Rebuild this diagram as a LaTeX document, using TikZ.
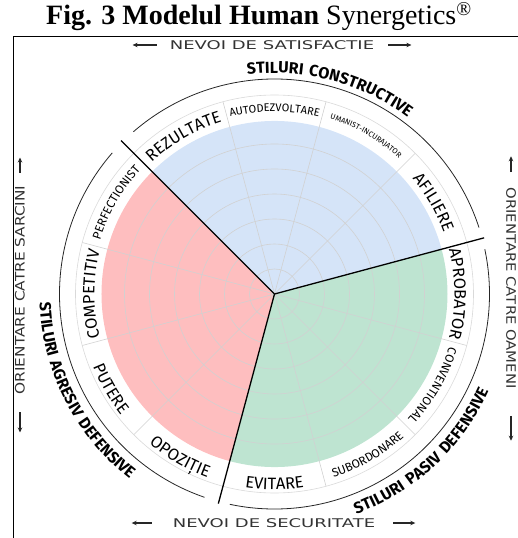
\documentclass[tikz,border=0pt]{standalone}
\usepackage{fontspec}
\setmainfont{Liberation Serif}
\newfontfamily\lbl{Fira Sans}
\newfontfamily\axisfont{DejaVu Sans}
\usetikzlibrary{decorations.text,arrows.meta}

\definecolor{constr}{RGB}{213,228,248}
\definecolor{agres}{RGB}{254,190,191}
\definecolor{pasiv}{RGB}{190,228,209}

% curved text: from angle, to angle, radius, font, text
\newcommand\arclabel[5]{%
  \path[decorate,decoration={text along path,text align=center,text={|#4|#5}}]
    (#1:#3) arc[start angle=#1,end angle=#2,radius=#3pt];}
\newcommand\bandbig{\lbl\fontsize{16.5}{16.5}\selectfont}
\newcommand\bandsmall{\lbl\fontsize{12}{12}\selectfont}
\newcommand\bandmid{\lbl\fontsize{11}{11}\selectfont}
\newcommand\bandtiny{\lbl\fontsize{7.6}{7.6}\selectfont}
\newcommand\groupfont{\lbl\bfseries\fontsize{16}{16}\selectfont\addfontfeatures{LetterSpace=10}}
% wide lettering for the axes
\newcommand\wide[2]{\scalebox{#1}[1]{#2}}

\begin{document}
\begin{tikzpicture}[x=1pt,y=1pt,
    grid/.style={black!18,line width=0.6pt},
    border/.style={line width=1.3pt},
    axis/.style={font=\axisfont\fontsize{12}{12}\selectfont,text=black!80,inner sep=0pt},
    dirarrow/.style={-{Stealth[length=5pt,width=4.5pt]},line width=1.3pt,black!85}]
\useasboundingbox (-274.5,-244) rectangle (243.5,294);

% the three groups of styles
\fill[constr] (0,0) -- (15:173) arc[start angle=15,end angle=135,radius=173pt] -- cycle;
\fill[agres] (0,0) -- (135:173) arc[start angle=135,end angle=255,radius=173pt] -- cycle;
\fill[pasiv] (0,0) -- (255:173) arc[start angle=255,end angle=375,radius=173pt] -- cycle;

% rings and spokes
\foreach \r in {25,50,...,150}
  \draw[grid] (0,0) circle[radius=\r pt];
\foreach \a in {45,75,105,165,195,225,285,315,345}
  \draw[grid] (0,0) -- (\a:199);
\draw[black!15,line width=0.6pt] (0,0) circle[radius=199pt];

% borders between the groups
\foreach \a in {15,135,255}
  \draw[border] (0,0) -- (\a:217);

% outer arcs
\draw[line width=0.8pt,black!85] (18:215) arc[start angle=18,end angle=131,radius=215pt];
\draw[line width=0.8pt,black!85] (139:215) arc[start angle=139,end angle=251,radius=215pt];
\draw[line width=0.8pt,black!85] (258:215) arc[start angle=258,end angle=372,radius=215pt];

% style names in the ring
\arclabel{145}{95}{180}{\bandbig}{REZULTATE}
\arclabel{115}{65}{182.5}{\bandmid}{AUTODEZVOLTARE}
\arclabel{85}{35}{184}{\bandtiny}{UMANIST-INCURAJATOR}
\arclabel{55}{5}{180}{\bandbig}{AFILIERE}
\arclabel{25}{-25}{180}{\bandbig}{APROBATOR}
\arclabel{355}{305}{182.5}{\bandsmall}{CONVENTIONAL}
\arclabel{275}{325}{193}{\bandsmall}{SUBORDONARE}
\arclabel{245}{295}{195.5}{\bandbig}{EVITARE}
\arclabel{215}{265}{195.5}{\bandbig}{OPOZIȚIE}
\arclabel{185}{235}{195.5}{\bandbig}{PUTERE}
\arclabel{205}{155}{180}{\bandbig}{COMPETITIV}
\arclabel{175}{125}{182.5}{\bandsmall}{PERFECTIONIST}

% group names
\arclabel{135}{15}{221}{\groupfont}{STILURI CONSTRUCTIVE}
\arclabel{147}{267}{235}{\groupfont}{STILURI AGRESIV DEFENSIVE}
\arclabel{253}{373}{235}{\groupfont}{STILURI PASIV DEFENSIVE}

% title and frame
\node[anchor=base] (title) at (-15.5,269)
  {\fontsize{28}{28}\selectfont\textbf{Fig. 3 Modelul Human} Synergetics\textsuperscript{\textregistered}};
\draw[line width=0.9pt] (243.5,258) -- (-261,258) -- (-261,-244);

% needs and orientations
\node[axis] (satisf) at (-2.5,249) {\wide{1.5}{NEVOI DE SATISFACTIE}};
\draw[dirarrow] ([xshift=-13pt]satisf.west) -- ++(-24,0);
\draw[dirarrow] ([xshift=14pt]satisf.east) -- ++(23,0);

\node[axis] (secur) at (-0.5,-229) {\wide{1.5}{NEVOI DE SECURITATE}};
\draw[dirarrow] ([xshift=-21pt]secur.west) -- ++(-20,0);
\draw[dirarrow] ([xshift=18pt]secur.east) -- ++(22,0);

\node[axis,font=\axisfont\fontsize{13}{13}\selectfont,rotate=90] (sarcini) at (-254.5,4)
  {\wide{1.18}{ORIENTARE CATRE SARCINI}};
\draw[dirarrow] ([yshift=13pt]sarcini.east) -- ++(0,15);
\draw[dirarrow] ([yshift=-18pt]sarcini.west) -- ++(0,-20);

\node[axis,font=\axisfont\fontsize{13}{13}\selectfont,rotate=-90] (oameni) at (236.5,6)
  {\wide{1.14}{ORIENTARE CATRE OAMENI}};
\draw[dirarrow] ([yshift=15pt]oameni.west) -- ++(0,16);
\draw[dirarrow] ([yshift=-27pt]oameni.east) -- ++(0,-25);
\end{tikzpicture}
\end{document}
